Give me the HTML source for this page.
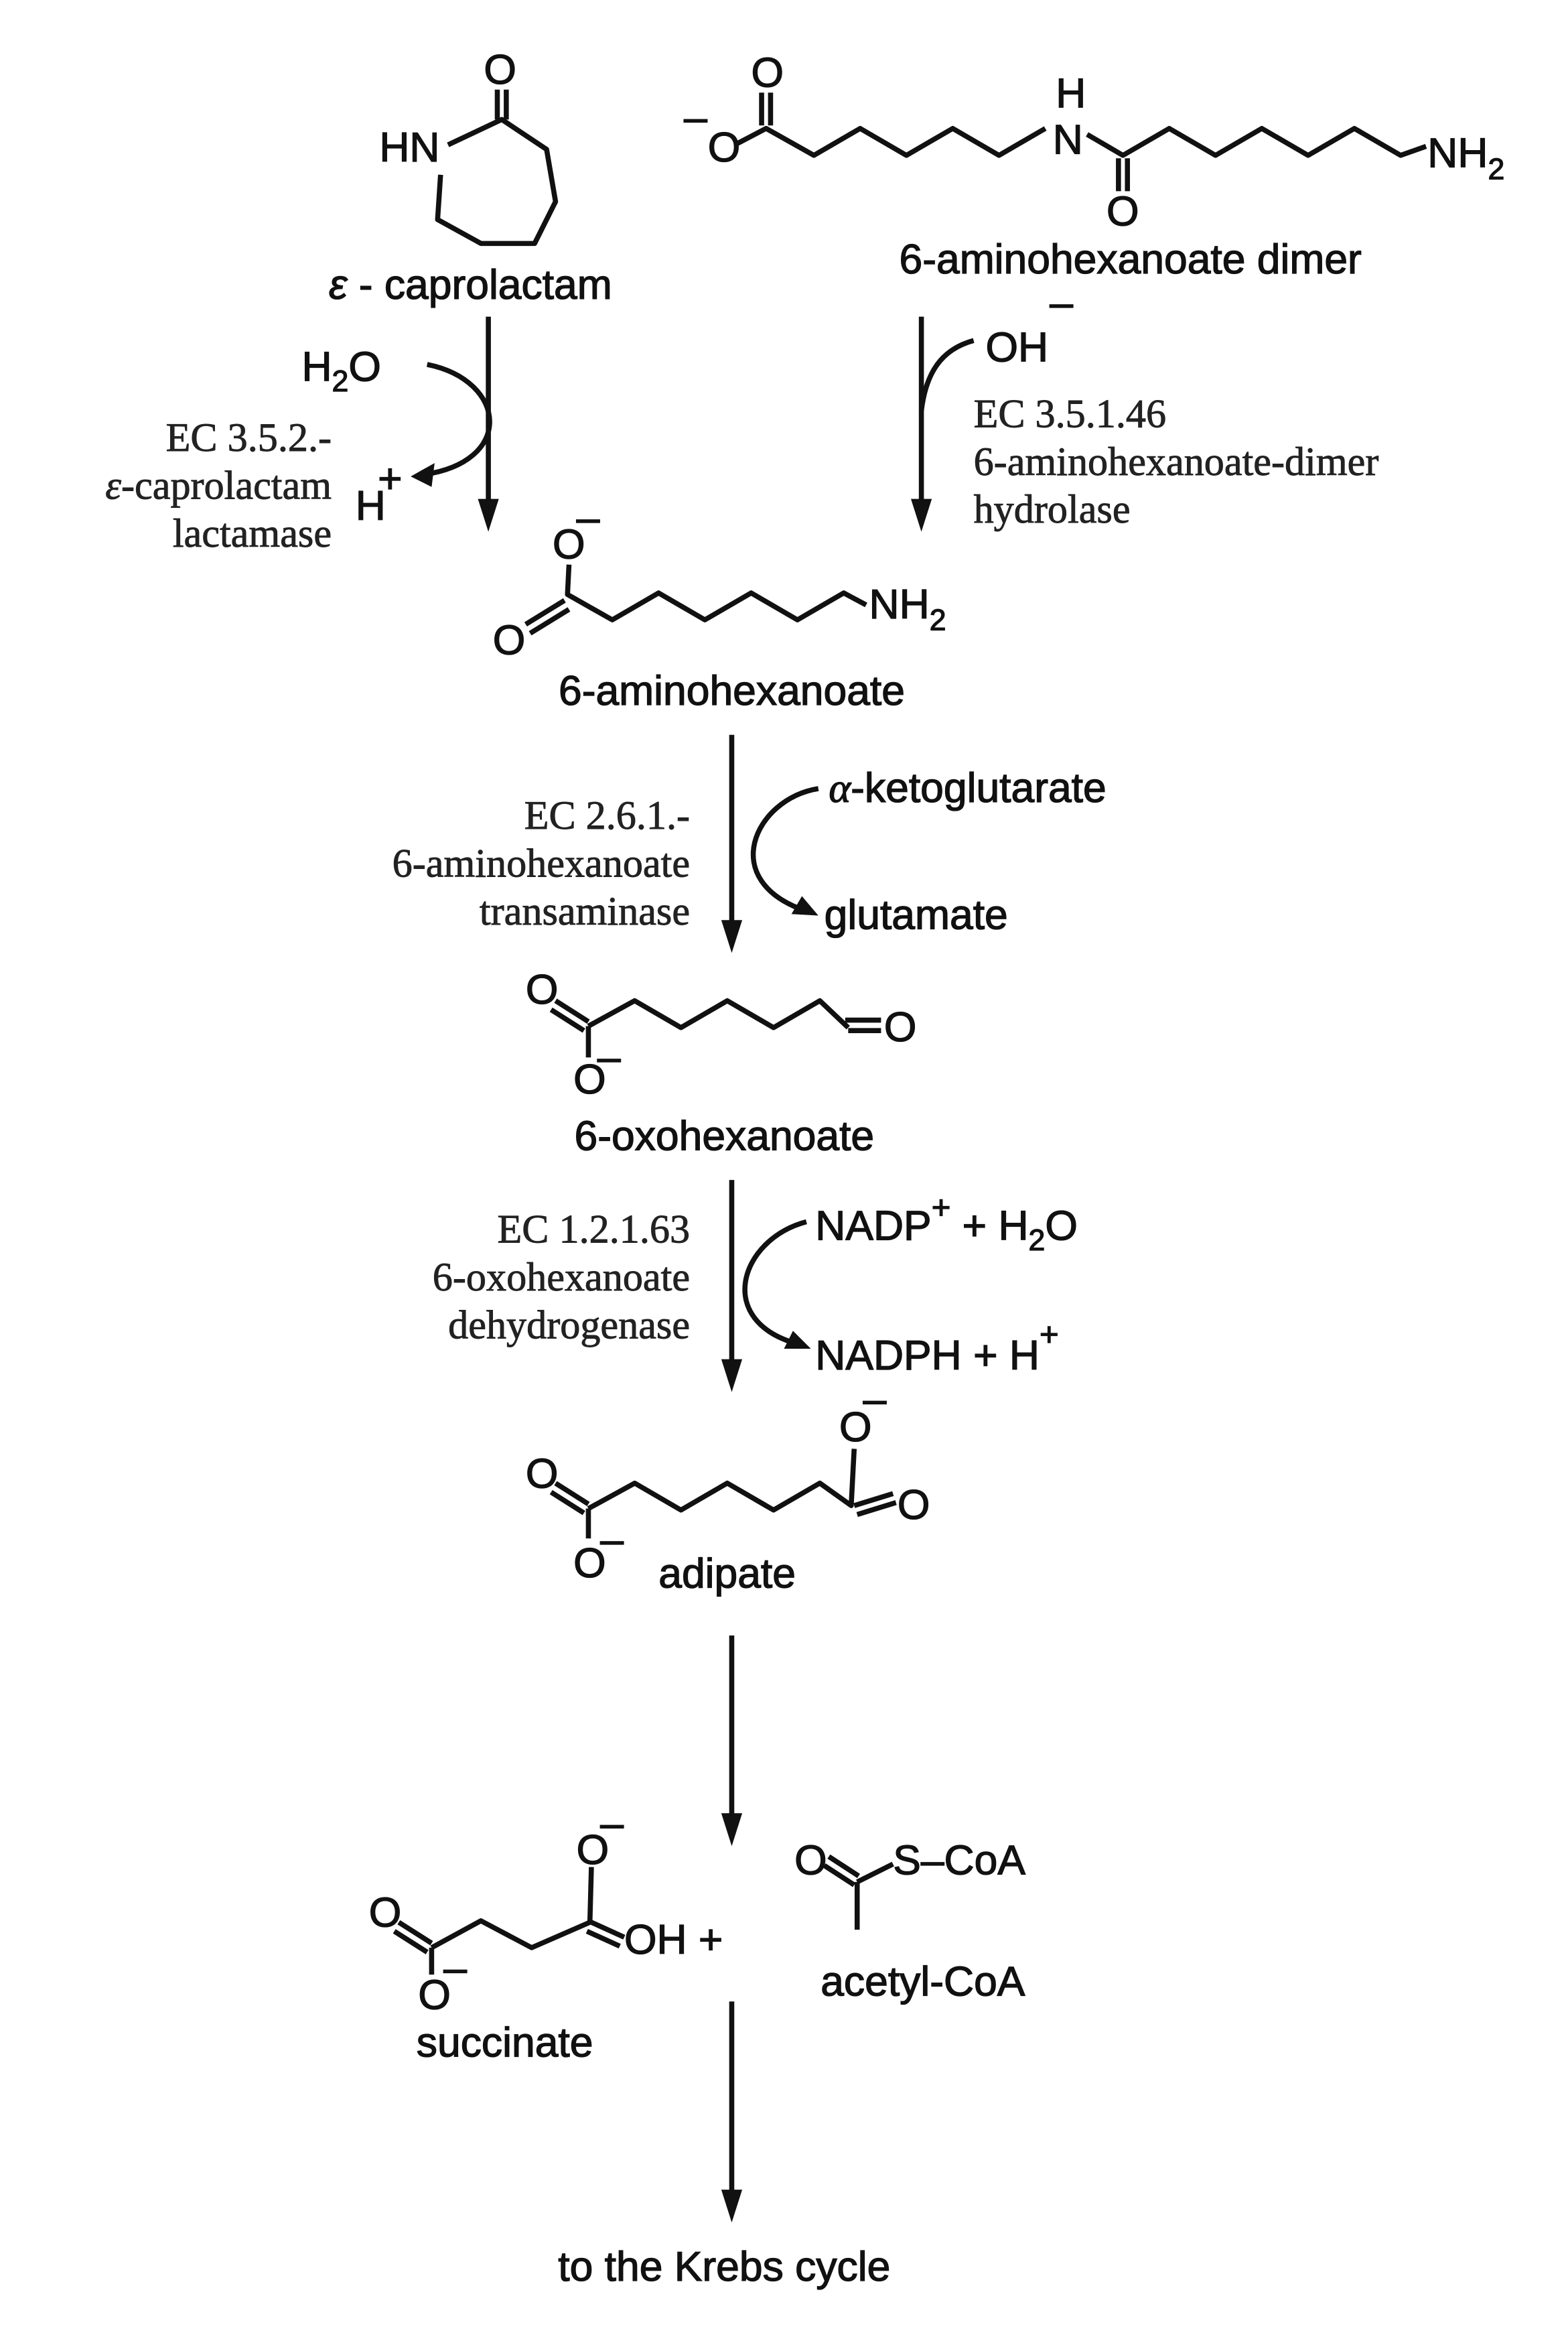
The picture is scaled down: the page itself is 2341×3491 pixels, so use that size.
<!DOCTYPE html>
<html><head><meta charset="utf-8"><style>
html,body{margin:0;padding:0;background:#fff;}
svg{display:block;}
.b{font-family:"Liberation Sans",sans-serif;font-size:28px;fill:#111;stroke:#111;stroke-width:0.6;}
.s{font-family:"Liberation Serif",serif;font-size:27px;fill:#222;stroke:#222;stroke-width:0.4;}
.l{stroke:#111;stroke-width:3.4;fill:none;stroke-linejoin:round;}
</style></head><body>
<svg width="2341" height="3491" viewBox="0 0 1050 1566" xmlns="http://www.w3.org/2000/svg">

<!-- caprolactam -->
<text class="b" x="254" y="108">HN</text>
<text class="b" x="324" y="56">O</text>
<path class="l" d="M333,60 V80 M339,60 V80"/>
<path class="l" d="M300,97 L336,80 L366,100 L372,135 L358,163 L322,163 L293,147 L295,117"/>
<text class="b" x="315" y="200" text-anchor="middle"><tspan font-style="italic">ε</tspan> - caprolactam</text>

<!-- dimer -->
<text class="b" x="474" y="108">O</text>
<text class="b" x="458" y="88" font-size="22">–</text>
<text class="b" x="503" y="58">O</text>
<path class="l" d="M510,62 V84 M516,62 V84"/>
<path class="l" d="M492,97 L513,86 L545,104 L576,86 L607,104 L638,86 L669,104 L700,86"/>
<text class="b" x="705" y="103">N</text><text class="b" x="707" y="72">H</text>
<path class="l" d="M728,90 L752,104 L783,86 L814,104 L845,86 L876,104 L907,86 L938,104 L955,98"/>
<path class="l" d="M749,106 V128 M755,106 V128"/>
<text class="b" x="741" y="151">O</text>
<text class="b" x="956" y="112">NH<tspan font-size="20" dy="8">2</tspan></text>
<text class="b" x="757" y="183" text-anchor="middle">6-aminohexanoate dimer</text>

<!-- arrow 1 -->
<path class="l" d="M327,212 V340"/>
<path d="M327,356 l-7,-22 l14,0z" fill="#111"/>
<text class="b" x="202" y="255">H<tspan font-size="20" dy="7">2</tspan><tspan dy="-7">O</tspan></text>
<path class="l" d="M286,244 C340,255 345,310 282,318"/>
<path d="M275,319 l16,-9 l-2,16z" fill="#111"/>
<text class="b" x="238" y="348">H</text><text class="b" x="253" y="330" font-size="22">+</text>
<text class="s" x="222" y="302" text-anchor="end">EC 3.5.2.-</text>
<text class="s" x="222" y="334" text-anchor="end"><tspan font-style="italic">ε</tspan>-caprolactam</text>
<text class="s" x="222" y="366" text-anchor="end">lactamase</text>

<!-- arrow 2 -->
<path class="l" d="M617,212 V340"/>
<path d="M617,356 l-7,-22 l14,0z" fill="#111"/>
<text class="b" x="660" y="242">OH</text><text class="b" x="703" y="212" font-size="22">–</text>
<path class="l" d="M652,228 C630,234 620,250 617,275"/>
<text class="s" x="652" y="286">EC 3.5.1.46</text>
<text class="s" x="652" y="318">6-aminohexanoate-dimer</text>
<text class="s" x="652" y="350">hydrolase</text>

<!-- 6-aminohexanoate -->
<text class="b" x="370" y="374">O</text><text class="b" x="386" y="356" font-size="22">–</text>
<text class="b" x="330" y="438">O</text>
<path class="l" d="M381,378 L380,398 L410,415 L441,397 L472,415 L503,397 L534,415 L565,397 L580,405"/>
<path class="l" d="M352,418 L378,402 M355,424 L381,408"/>
<text class="b" x="582" y="414">NH<tspan font-size="20" dy="8">2</tspan></text>
<text class="b" x="490" y="472" text-anchor="middle">6-aminohexanoate</text>

<!-- arrow 3 -->
<path class="l" d="M490,492 V620"/>
<path d="M490,638 l-7,-22 l14,0z" fill="#111"/>
<path class="l" d="M548,528 C505,535 480,590 540,610"/>
<path d="M548,613 l-18,-1 l7,-12z" fill="#111"/>
<text class="b" x="555" y="537"><tspan font-family="Liberation Serif" font-style="italic">α</tspan>-ketoglutarate</text>
<text class="b" x="552" y="622">glutamate</text>
<text class="s" x="462" y="555" text-anchor="end">EC 2.6.1.-</text>
<text class="s" x="462" y="587" text-anchor="end">6-aminohexanoate</text>
<text class="s" x="462" y="619" text-anchor="end">transaminase</text>

<!-- 6-oxohexanoate -->
<text class="b" x="352" y="672">O</text>
<path class="l" d="M372,670 L394,684 M369,676 L391,690"/>
<path class="l" d="M394,687 L394,708 M394,687 L425,670 L456,688 L487,670 L518,688 L549,670 L568,688"/>
<path class="l" d="M566,683 L590,683 M568,690 L590,690"/>
<text class="b" x="592" y="697">O</text>
<text class="b" x="384" y="732">O</text><text class="b" x="400" y="717" font-size="22">–</text>
<text class="b" x="485" y="770" text-anchor="middle">6-oxohexanoate</text>

<!-- arrow 4 -->
<path class="l" d="M490,790 V914"/>
<path d="M490,932 l-7,-22 l14,0z" fill="#111"/>
<path class="l" d="M540,818 C495,830 478,885 535,900"/>
<path d="M543,903 l-18,0 l6,-12z" fill="#111"/>
<text class="b" x="546" y="830">NADP<tspan font-size="22" dy="-14">+</tspan><tspan dy="14"> + H</tspan><tspan font-size="20" dy="7">2</tspan><tspan dy="-7">O</tspan></text>
<text class="b" x="546" y="917">NADPH + H<tspan font-size="22" dy="-16">+</tspan></text>
<text class="s" x="462" y="832" text-anchor="end">EC 1.2.1.63</text>
<text class="s" x="462" y="864" text-anchor="end">6-oxohexanoate</text>
<text class="s" x="462" y="896" text-anchor="end">dehydrogenase</text>

<!-- adipate -->
<text class="b" x="352" y="996">O</text>
<path class="l" d="M372,993 L394,1007 M369,999 L391,1013"/>
<path class="l" d="M394,1010 L394,1030 M394,1010 L425,993 L456,1011 L487,993 L518,1011 L549,993 L570,1008 L572,970"/>
<path class="l" d="M572,1008 L598,1000 M574,1014 L600,1006"/>
<text class="b" x="601" y="1017">O</text>
<text class="b" x="562" y="965">O</text><text class="b" x="578" y="946" font-size="22">–</text>
<text class="b" x="384" y="1056">O</text><text class="b" x="402" y="1040" font-size="22">–</text>
<text class="b" x="441" y="1063">adipate</text>

<!-- arrow 5 -->
<path class="l" d="M490,1095 V1218"/>
<path d="M490,1236 l-7,-22 l14,0z" fill="#111"/>

<!-- succinate -->
<text class="b" x="247" y="1290">O</text>
<path class="l" d="M267,1287 L289,1301 M264,1293 L286,1307"/>
<path class="l" d="M289,1304 L289,1322 M289,1304 L322,1286 L356,1304 L395,1287 L396,1250"/>
<path class="l" d="M396,1287 L418,1297 M393,1293 L415,1303"/>
<text class="b" x="418" y="1308">OH +</text>
<text class="b" x="386" y="1248">O</text><text class="b" x="402" y="1230" font-size="22">–</text>
<text class="b" x="280" y="1345">O</text><text class="b" x="297" y="1327" font-size="22">–</text>
<text class="b" x="338" y="1377" text-anchor="middle">succinate</text>

<!-- acetyl-CoA -->
<text class="b" x="532" y="1255">O</text>
<path class="l" d="M552,1249 L572,1262 M555,1243 L575,1256"/>
<path class="l" d="M574,1260 L598,1248 M574,1260 L574,1292"/>
<text class="b" x="598" y="1255">S–CoA</text>
<text class="b" x="618" y="1336" text-anchor="middle">acetyl-CoA</text>

<!-- arrow 6 -->
<path class="l" d="M490,1340 V1470"/>
<path d="M490,1488 l-7,-22 l14,0z" fill="#111"/>
<text class="b" x="485" y="1527" text-anchor="middle">to the Krebs cycle</text>
</svg>
</body></html>
